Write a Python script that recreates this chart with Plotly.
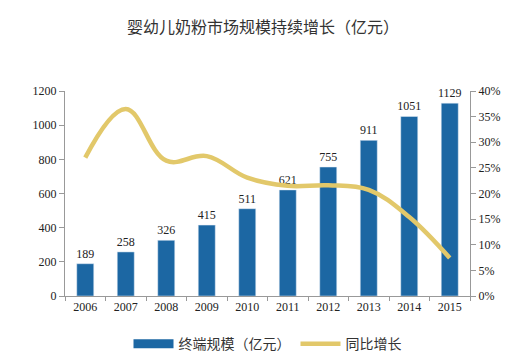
import plotly.graph_objects as go

years = ["2006", "2007", "2008", "2009", "2010", "2011", "2012", "2013", "2014", "2015"]
scale = [189, 258, 326, 415, 511, 621, 755, 911, 1051, 1129]
growth = [27.0, 36.5, 26.4, 27.3, 23.1, 21.5, 21.6, 20.7, 15.4, 7.4]

font_fam = "Liberation Serif, DejaVu Serif, serif"
cjk = "Noto Sans CJK SC, sans-serif"
bar_color = "#1c67a3"
line_color = "#e2c86a"

fig = go.Figure()
fig.add_trace(go.Bar(
    x=years, y=scale, name="终端规模（亿元）", showlegend=False,
    marker=dict(color=bar_color),
    text=[str(v) for v in scale], textposition="outside", constraintext="none",
    textfont=dict(family=font_fam, size=12, color="#222"),
    cliponaxis=False,
))
fig.add_trace(go.Scatter(
    x=[None], y=[None], name="终端规模（亿元）", mode="lines",
    line=dict(color=bar_color, width=9),
))
fig.add_trace(go.Scatter(
    x=years, y=growth, name="同比增长", yaxis="y2",
    mode="lines", line=dict(color=line_color, width=4.5, shape="spline", smoothing=1.1),
))

fig.update_layout(
    width=510, height=358,
    margin=dict(l=57, r=48, t=83, b=70, autoexpand=False),
    paper_bgcolor="white", plot_bgcolor="white",
    title=dict(text="婴幼儿奶粉市场规模持续增长（亿元）", x=0.5, xanchor="center", y=0.947, yanchor="middle",
               font=dict(family=cjk, size=16, color="#333")),
    bargap=0.58,
    showlegend=True,
    legend=dict(orientation="h", x=0.5, xanchor="center", y=-0.235, yanchor="middle",
                font=dict(family=cjk, size=14, color="#333"), itemwidth=40, traceorder="normal"),
    xaxis=dict(showline=True, linecolor="#999", ticks="outside", tickson="boundaries", ticklen=4,
               tickcolor="#999", tickfont=dict(family=font_fam, size=12, color="#222"), showgrid=False),
    yaxis=dict(range=[0, 1200], dtick=200, showline=True, linecolor="#999", ticks="outside", ticklen=5,
               tickcolor="#999", showgrid=False, zeroline=False,
               tickfont=dict(family=font_fam, size=12, color="#222")),
    yaxis2=dict(range=[0, 40], dtick=5, overlaying="y", side="right", showline=True, linecolor="#999",
                ticks="outside", ticklen=5, tickcolor="#999", showgrid=False, zeroline=False,
                ticksuffix="%", tickfont=dict(family=font_fam, size=12, color="#222")),
)

fig.write_html("out.html")
